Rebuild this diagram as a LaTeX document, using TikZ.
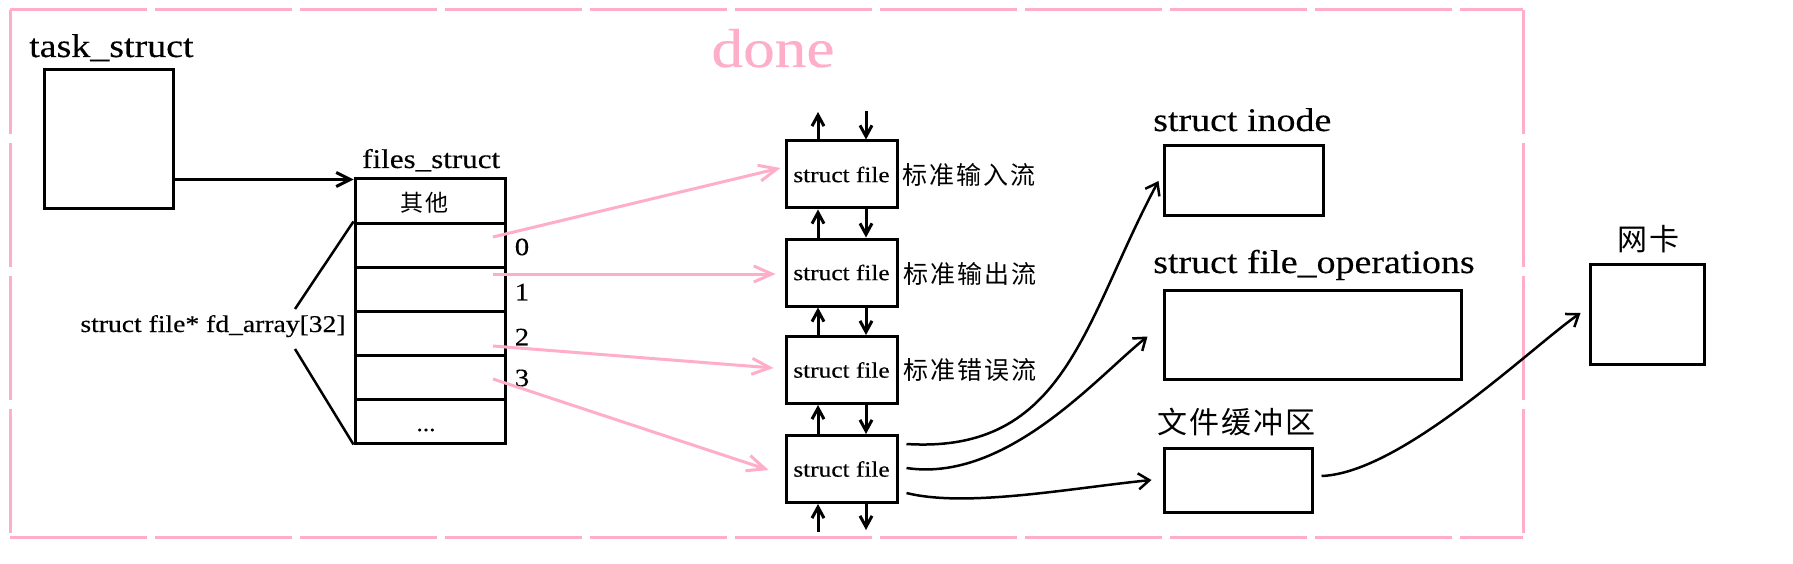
\documentclass[tikz,border=0pt]{standalone}
\usepackage{fontspec}
\setmainfont[FakeStretch=1.15,FakeBold=0.3]{Liberation Serif}
\newfontfamily\cjk{Noto Sans CJK SC}
\newfontfamily\cjka[LetterSpace=8]{Noto Sans CJK SC}
\newfontfamily\cjkb[LetterSpace=7]{Noto Sans CJK SC}
\newfontfamily\cjkc[LetterSpace=12]{Noto Sans CJK SC}
\usetikzlibrary{arrows.meta,calc}
\definecolor{pinkline}{HTML}{FFAEC9}
\newcommand{\fsz}[1]{\fontsize{#1}{#1}\selectfont}
\begin{document}
\begin{tikzpicture}[x=1pt,y=-1pt,
  box/.style={draw,line width=3pt,inner sep=0pt},
  lbl/.style={inner sep=0pt},
  frameh/.style={draw=pinkline,line width=3pt,dash pattern=on 137pt off 8pt},
  framev/.style={draw=pinkline,line width=3pt,dash pattern=on 124pt off 9pt},
  barrow/.style={line width=3pt,-{Straight Barb[length=14pt,width=14pt]}},
  varrow/.style={line width=3pt,-{Straight Barb[length=11pt,width=12pt]}},
  parrow/.style={draw=pinkline,line width=3pt,-{Straight Barb[length=18pt,width=16pt]}},
  carrow/.style={line width=2.5pt,-{Straight Barb[length=11pt,width=16pt]}},
  braceline/.style={line width=2.5pt},
  sfbox/.style={box,minimum width=111pt,minimum height=67pt,font=\fsz{22}},
  cjklbl/.style={lbl,anchor=west,font=\fsz{25}\cjka}
]
\useasboundingbox (0,0) rectangle (1793,564);

% frame
\coordinate (ftl) at (10,10);
\coordinate (ftr) at (1523,10);
\coordinate (fbl) at (10,537);
\coordinate (fbr) at (1523,537);
\draw[frameh] (ftl) -- (ftr);
\draw[frameh] (fbl) -- (fbr);
\draw[framev] (ftl) -- (fbl);
\draw[framev] (ftr) -- (fbr);
\node[lbl,anchor=base,text=pinkline,font=\fsz{55}] (done) at (773,67) {done};

% task_struct
\node[lbl,anchor=base west,font=\fsz{33}] (tasklbl) at (29,57) {task\_struct};
\node[box,minimum width=129pt,minimum height=139pt] (task) at (108.5,139.5) {};

% files_struct
\node[lbl,anchor=base west,font=\fsz{27}] (fileslbl) at (362,168) {files\_struct};
\foreach \i/\y in {0/201,1/245,2/289,3/333,4/377,5/421}
  \node[box,minimum width=150pt,minimum height=44pt] (r\i) at (430,\y) {};
\node[lbl,anchor=west,font=\fsz{23}\cjkc] (qita) at (400,203) {其他};
\node[lbl,anchor=base,font=\fsz{22}] (dots) at (426,431) {...};
\foreach \i/\y in {0/247,1/292,2/337,3/378}
  \node[lbl,font=\fsz{25}] (d\i) at (522,\y) {\i};

\draw[barrow] ([yshift=-2pt]task.east |- r0.north west) -- ([yshift=-2pt]r0.north west);

% fd_array brace
\node[lbl,anchor=base,font=\fsz{24}] (fdlbl) at (213,332) {struct file* fd\_array[32]};
\coordinate (b1) at (295,309);
\coordinate (b2) at (295,349);
\draw[braceline] (b1) -- (r1.north west);
\draw[braceline] (b2) -- (r5.south west);

% struct file boxes
\node[sfbox] (sf1) at (841.5,174.5) {struct file};
\node[sfbox] (sf2) at (841.5,272.5) {struct file};
\node[sfbox] (sf3) at (841.5,370) {struct file};
\node[sfbox] (sf4) at (841.5,469) {struct file};
\node[cjklbl] (in) at (902,175) {标准输入流};
\node[cjklbl] (out) at (903,274) {标准输出流};
\node[cjklbl] (err) at (903,370) {标准错误流};

% vertical arrows
\coordinate (ux) at (818,0);
\coordinate (dx) at (866,0);
\coordinate (topup) at (818,112);
\coordinate (topdn) at (866,111);
\coordinate (botup) at (818,532);
\coordinate (botdn) at (866,530);
\draw[varrow] (sf1.north -| ux) -- (topup);
\draw[varrow] (topdn) -- (sf1.north -| dx);
\foreach \a/\b in {sf1/sf2,sf2/sf3,sf3/sf4}{
  \draw[varrow] (\b.north -| ux) -- (\a.south -| ux);
  \draw[varrow] (\a.south -| dx) -- (\b.north -| dx);
}
\draw[varrow] (botup) -- (sf4.south -| ux);
\draw[varrow] (sf4.south -| dx) -- (botdn);

% pink pointers
\coordinate (p0) at (493,237);
\coordinate (p1) at (493,274);
\coordinate (p2) at (493,346);
\coordinate (p3) at (493,379);
\draw[parrow] (p0) -- ($(sf1.west)+(-4,-6.5)$);
\draw[parrow] (p1) -- ($(sf2.west)+(-9,1.5)$);
\draw[parrow] (p2) -- ($(sf3.west)+(-11,-2)$);
\draw[parrow] (p3) -- ($(sf4.west)+(-16,1)$);

% right side structures
\node[lbl,anchor=base west,font=\fsz{33}] (inodelbl) at (1153,131) {struct inode};
\node[box,minimum width=159pt,minimum height=70pt] (inode) at (1243.5,181) {};
\node[lbl,anchor=base west,font=\fsz{33}] (fopslbl) at (1153,273) {struct file\_operations};
\node[box,minimum width=297pt,minimum height=89pt] (fops) at (1312.5,334.5) {};
\node[lbl,anchor=west,font=\fsz{30}\cjkb] (buflbl) at (1157,422) {文件缓冲区};
\node[box,minimum width=148pt,minimum height=64pt] (buf) at (1238,480) {};
\node[lbl,anchor=west,font=\fsz{30}\cjkb] (niclbl) at (1617,239) {网卡};
\node[box,minimum width=114pt,minimum height=100pt] (nic) at (1647,314) {};

% curves
\draw[carrow] ($(sf4.east)+(8,-25)$) .. controls +(160,10) and +(-75,140) .. ($(inode.west)+(-4,0)$);
\draw[carrow] ($(sf4.east)+(8,-1)$) .. controls +(100,15) and +(-50,40) .. ($(fops.west)+(-15,2)$);
\draw[carrow] ($(sf4.east)+(8,24)$) .. controls +(60,15) and +(-80,8) .. ($(buf.west)+(-11,0)$);
\draw[carrow] ($(buf.east)+(8,-4)$) .. controls +(80,-3) and +(-50,35) .. ($(nic.west)+(-8,-1)$);
\end{tikzpicture}
\end{document}
